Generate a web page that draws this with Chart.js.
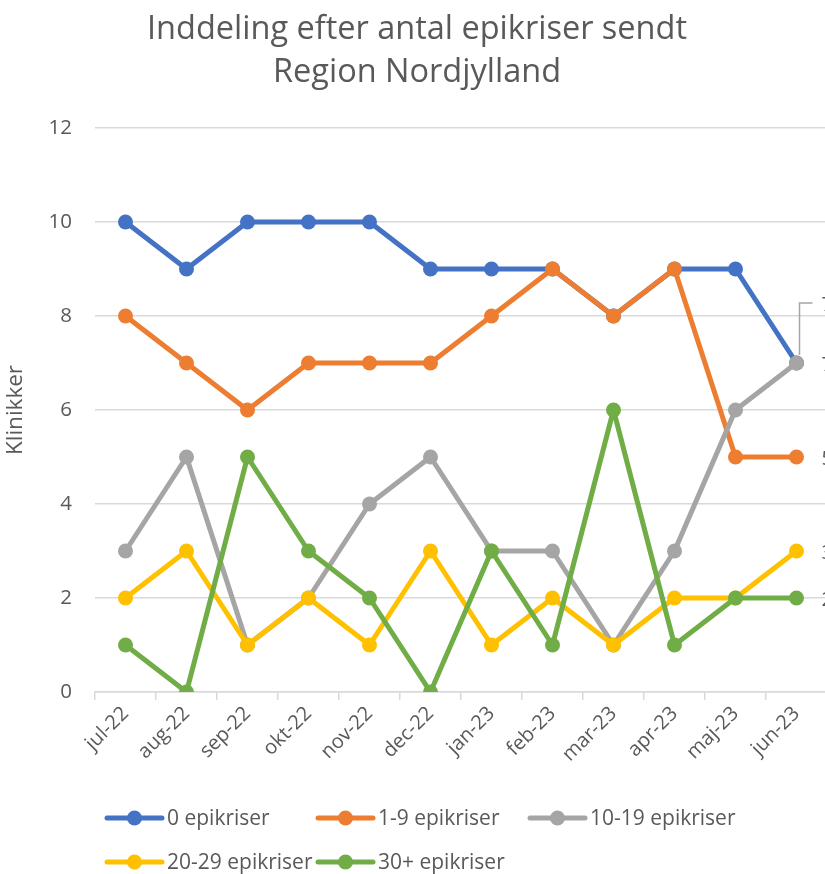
<!DOCTYPE html>
<html>
<head>
<meta charset="utf-8">
<script src="https://cdn.jsdelivr.net/npm/chart.js@4/dist/chart.umd.min.js"></script>
<style>
  html, body { margin: 0; padding: 0; background: #ffffff; overflow: hidden; }
  #wrap { width: 825px; height: 874px; overflow: hidden; position: relative; }
  #c { display: block; }
</style>
</head>
<body>
<div id="wrap"><canvas id="c" width="840" height="874" style="width:840px;height:874px"></canvas></div>
<script>
const titleLines = ['Inddeling efter antal epikriser sendt', 'Region Nordjylland'];
const yAxisTitle = 'Klinikker';
const categories = ['jul-22','aug-22','sep-22','okt-22','nov-22','dec-22','jan-23','feb-23','mar-23','apr-23','maj-23','jun-23'];
const seriesNames = ['0 epikriser','1-9 epikriser','10-19 epikriser','20-29 epikriser','30+ epikriser'];
const series0 = [10, 9, 10, 10, 10, 9, 9, 9, 8, 9, 9, 7];
const series1_9 = [8, 7, 6, 7, 7, 7, 8, 9, 8, 9, 5, 5];
const series10_19 = [3, 5, 1, 2, 4, 5, 3, 3, 1, 3, 6, 7];
const series20_29 = [2, 3, 1, 2, 1, 3, 1, 2, 1, 2, 2, 3];
const series30plus = [1, 0, 5, 3, 2, 0, 3, 1, 6, 1, 2, 2];
const yMin = 0, yMax = 12, yStep = 2;

const colors = ['#4472C4', '#ED7D31', '#A5A5A5', '#FFC000', '#70AD47'];
const allSeries = [series0, series1_9, series10_19, series20_29, series30plus];
const FONT = "'Open Sans', 'DejaVu Sans', sans-serif";
const TEXT = '#595959';

const datasets = allSeries.map((d, i) => ({
  label: seriesNames[i],
  data: d,
  borderColor: colors[i],
  backgroundColor: colors[i],
  pointBackgroundColor: colors[i],
  pointBorderColor: colors[i],
  borderWidth: 5,
  pointRadius: 7.5,
  pointBorderWidth: 0,
  pointHoverRadius: 7.5,
  tension: 0,
  borderJoinStyle: 'round',
  borderCapStyle: 'round',
  fill: false,
  order: allSeries.length - 1 - i
}));

const titlePlugin = {
  id: 'titleDraw',
  afterDraw(chart) {
    const ctx = chart.ctx;
    ctx.save();
    ctx.fillStyle = TEXT;
    ctx.font = '32.5px ' + FONT;
    ctx.textAlign = 'center';
    ctx.textBaseline = 'middle';
    ctx.fillText(titleLines[0], 417, 30);
    ctx.fillText(titleLines[1], 417, 73);
    ctx.restore();
  }
};

const labelPlugin = {
  id: 'lastLabels',
  afterDatasetsDraw(chart) {
    const ctx = chart.ctx;
    ctx.save();
    ctx.font = '20px ' + FONT;
    ctx.fillStyle = TEXT;
    ctx.textAlign = 'left';
    ctx.textBaseline = 'middle';
    chart.data.datasets.forEach((ds, i) => {
      const meta = chart.getDatasetMeta(i);
      const last = meta.data[meta.data.length - 1];
      const v = ds.data[ds.data.length - 1];
      let x = last.x, y = last.y;
      if (i === 0) {
        ctx.strokeStyle = '#A5A5A5';
        ctx.lineWidth = 1.5;
        ctx.beginPath();
        ctx.moveTo(x + 3, y - 8);
        ctx.lineTo(x + 3, y - 60);
        ctx.lineTo(x + 16, y - 60);
        ctx.stroke();
        ctx.fillText(String(v), x + 25, y - 58);
      } else {
        ctx.fillText(String(v), x + 25, y + 2);
      }
    });
    ctx.restore();
  }
};

const legendPlugin = {
  id: 'legendDraw',
  afterDraw(chart) {
    const ctx = chart.ctx;
    const cols = [107, 318, 530];
    const rows = [818, 862];
    ctx.save();
    ctx.font = '21px ' + FONT;
    ctx.textAlign = 'left';
    ctx.textBaseline = 'middle';
    seriesNames.forEach((name, i) => {
      const x = cols[i % 3], y = rows[Math.floor(i / 3)];
      ctx.strokeStyle = colors[i];
      ctx.lineWidth = 5;
      ctx.lineCap = 'round';
      ctx.beginPath();
      ctx.moveTo(x, y);
      ctx.lineTo(x + 55, y);
      ctx.stroke();
      ctx.fillStyle = colors[i];
      ctx.beginPath();
      ctx.arc(x + 27.5, y, 7.5, 0, Math.PI * 2);
      ctx.fill();
      ctx.fillStyle = TEXT;
      ctx.fillText(name, x + 60, y + 1);
    });
    ctx.restore();
  }
};

new Chart(document.getElementById('c'), {
  type: 'line',
  data: { labels: categories, datasets },
  options: {
    responsive: false,
    animation: false,
    devicePixelRatio: 1,
    layout: { padding: { top: 128, right: 13, bottom: 0, left: 0 } },
    plugins: {
      legend: { display: false },
      title: { display: false },
      tooltip: { enabled: false }
    },
    scales: {
      x: {
        offset: true,
        grid: { drawOnChartArea: false, drawTicks: true, tickLength: 8, color: '#D9D9D9', lineWidth: 1.5, offset: true },
        border: { display: true, color: '#D9D9D9', width: 1.5 },
        ticks: { color: TEXT, font: { size: 20, family: FONT }, maxRotation: 45, minRotation: 45, autoSkip: false, padding: 2 },
        afterFit: s => { s.height = 182; }
      },
      y: {
        min: yMin, max: yMax,
        ticks: { stepSize: yStep, color: TEXT, font: { size: 20.5, family: FONT }, padding: 23 },
        grid: { color: '#D9D9D9', lineWidth: 1.5, drawTicks: false },
        border: { display: false },
        title: { display: true, text: yAxisTitle, color: TEXT, font: { size: 22.5, family: FONT }, padding: { top: 2, bottom: 0 } },
        afterFit: s => { s.width = 95; }
      }
    }
  },
  plugins: [titlePlugin, labelPlugin, legendPlugin]
});
</script>
</body>
</html>
